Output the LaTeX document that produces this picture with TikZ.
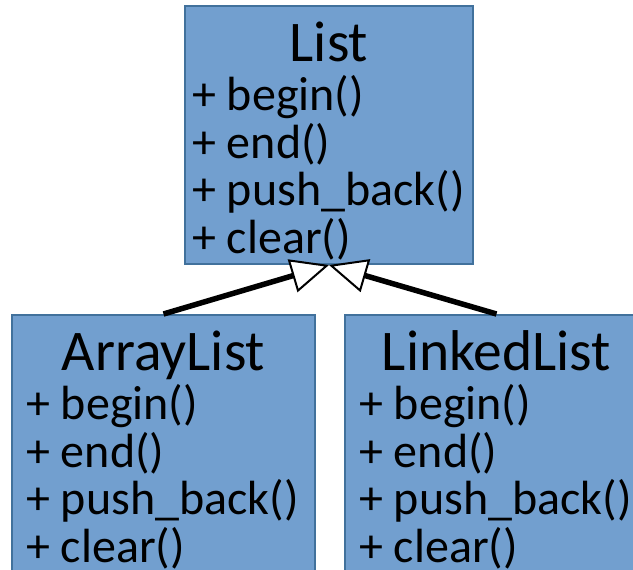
\documentclass[tikz,border=0pt]{standalone}
\usepackage{fontspec}
\setmainfont{Carlito}
\usetikzlibrary{arrows.meta}
\definecolor{classfill}{RGB}{114,159,207}
\definecolor{classline}{RGB}{65,113,156}
\tikzset{
  classbox/.style={draw=classline, line width=2pt, fill=classfill, rectangle,
    inner sep=0pt, anchor=north west},
  classname/.style={font=\fontsize{57.5}{60}\selectfont, inner sep=0pt, anchor=base},
  classop/.style={font=\fontsize{48}{51}\selectfont, inner sep=0pt, anchor=base west},
  inherits/.style={line width=5.5pt,
    -{Triangle[length=38pt, width=34pt, fill=white, line width=2pt]}}
}
\begin{document}
\begin{tikzpicture}[x=1pt, y=-1pt]
  \clip (0,0) rectangle (633,570);
  \fill[white] (0,0) rectangle (633,570);

  % classes
  \node[classbox, minimum width=288pt, minimum height=258pt] (list) at (184,5) {};
  \node[classbox, minimum width=303pt, minimum height=290pt] (arraylist) at (11,314) {};
  \node[classbox, minimum width=303pt, minimum height=290pt] (linkedlist) at (344,314) {};

  \foreach \c/\cname/\dx in {list/List/8, arraylist/ArrayList/15, linkedlist/LinkedList/15} {
    \node[classname] (\c-name) at ([yshift=-56pt]\c.north) {\cname};
    \foreach \meth [count=\i] in {begin(), end(), push\_back(), clear()}
      \node[classop] (\c-op\i) at ([xshift=\dx pt, yshift={-58pt-47.5pt*\i}]\c.north west) {+ \meth};
  }

  % inheritance
  \draw[inherits] (arraylist.north) -- (list.south);
  \draw[inherits] (linkedlist.north) -- (list.south);
\end{tikzpicture}
\end{document}
